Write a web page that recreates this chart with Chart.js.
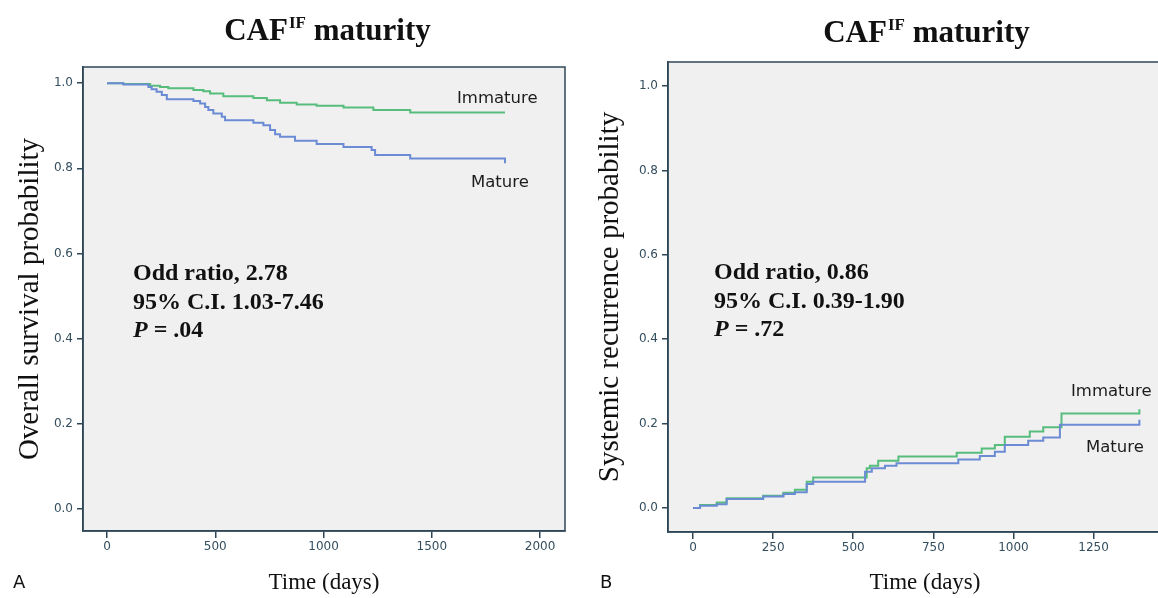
<!DOCTYPE html>
<html>
<head>
<meta charset="utf-8">
<script src="https://cdn.jsdelivr.net/npm/chart.js@4/dist/chart.umd.min.js"></script>
<style>
  html, body { margin: 0; padding: 0; background: #fff; overflow: hidden; width: 1158px; height: 598px; }
  .panel { position: absolute; top: 0; }
  #wrapA { left: 0; width: 580px; height: 598px; }
  #wrapB { left: 580px; width: 610px; height: 598px; }
  canvas { display: block; background: #fff; }
</style>
</head>
<body>
<div class="panel" id="wrapA"><canvas id="chartA" width="580" height="598"></canvas></div>
<div class="panel" id="wrapB"><canvas id="chartB" width="610" height="598"></canvas></div>
<script>
// A: overall survival (Kaplan-Meier)
const osDaysImmature = [0, 75, 199, 245, 283, 399, 445, 476, 537, 676, 738, 799, 876, 968, 1092, 1230, 1400, 1838]
const osProbImmature = [1.0, 0.998, 0.994, 0.991, 0.988, 0.984, 0.981, 0.976, 0.969, 0.965, 0.960, 0.954, 0.950, 0.947, 0.943, 0.937, 0.931, 0.931]
const osDaysMature = [0, 75, 191, 206, 229, 253, 276, 399, 430, 453, 468, 491, 530, 545, 676, 722, 753, 776, 799, 868, 968, 1092, 1222, 1238, 1400, 1838, 1838]
const osProbMature = [1.0, 0.997, 0.991, 0.986, 0.980, 0.972, 0.962, 0.958, 0.952, 0.944, 0.937, 0.929, 0.921, 0.913, 0.907, 0.901, 0.890, 0.880, 0.874, 0.865, 0.857, 0.850, 0.843, 0.831, 0.823, 0.823, 0.812]

// B: systemic recurrence
const recDaysImmature = [0, 22, 74, 105, 219, 282, 318, 355, 375, 542, 552, 578, 641, 823, 901, 942, 973, 1051, 1093, 1150, 1393, 1393]
const recProbImmature = [0, 0.007, 0.013, 0.023, 0.029, 0.036, 0.043, 0.062, 0.072, 0.094, 0.100, 0.112, 0.122, 0.131, 0.141, 0.149, 0.169, 0.181, 0.191, 0.224, 0.224, 0.234]
const recDaysMature = [0, 22, 74, 105, 219, 282, 318, 355, 375, 537, 558, 599, 635, 828, 895, 942, 973, 1046, 1093, 1145, 1393, 1393]
const recProbMature = [0, 0.005, 0.009, 0.021, 0.027, 0.033, 0.037, 0.057, 0.062, 0.086, 0.094, 0.100, 0.106, 0.115, 0.123, 0.133, 0.149, 0.159, 0.167, 0.197, 0.197, 0.209]

const xTicksA = [0, 500, 1000, 1500, 2000]
const xTicksB = [0, 250, 500, 750, 1000, 1250]
const yTicks = [0, 0.2, 0.4, 0.6, 0.8, 1.0]

const statsA = ['Odd ratio, 2.78', '95% C.I. 1.03-7.46', '.04']
const statsB = ['Odd ratio, 0.86', '95% C.I. 0.39-1.90', '.72']

const colors = {
    green: '#56bd7c',
    blue: '#6b8bd4',
    axis: '#2e4757',
    tick: '#344e5e',
    plot: '#f0f0f0',
    text: '#111',
}
const serif = '"Liberation Serif", "Times New Roman", serif'
const sans = '"DejaVu Sans", sans-serif'

function pts(xs, ys) {
    return xs.map((x, i) => ({ x: x, y: ys[i] }))
}

// plot box, title, stats and curve labels
const panelDecor = {
    id: 'panelDecor',
    beforeDraw(chart) {
        const { ctx, chartArea: a } = chart
        ctx.save()
        ctx.fillStyle = colors.plot
        ctx.fillRect(a.left, a.top, a.right - a.left, a.bottom - a.top)
        ctx.restore()
    },
    afterDraw(chart, args, o) {
        const { ctx, chartArea: a } = chart
        ctx.save()
        ctx.strokeStyle = colors.axis
        ctx.lineWidth = 1.5
        ctx.strokeRect(a.left, a.top, a.right - a.left, a.bottom - a.top)

        // title with superscript
        ctx.fillStyle = colors.text
        ctx.textBaseline = 'alphabetic'
        ctx.textAlign = 'left'
        const big = 'bold 31px ' + serif
        const small = 'bold 17px ' + serif
        ctx.font = big
        const w1 = ctx.measureText('CAF').width
        const w3 = ctx.measureText(' maturity').width
        ctx.font = small
        const w2 = ctx.measureText('IF').width
        let x = o.titleX - (w1 + w2 + w3) / 2
        ctx.font = big
        ctx.fillText('CAF', x, o.titleY)
        ctx.font = small
        ctx.fillText('IF', x + w1 + 1, o.titleY - 12)
        ctx.font = big
        ctx.fillText(' maturity', x + w1 + w2 + 1, o.titleY)

        // stats block
        ctx.font = 'bold 24px ' + serif
        ctx.fillText(o.stats[0], o.statsX, o.statsY)
        ctx.fillText(o.stats[1], o.statsX, o.statsY + 28.5)
        ctx.font = 'italic bold 24px ' + serif
        ctx.fillText('P', o.statsX, o.statsY + 57)
        const pw = ctx.measureText('P').width
        ctx.font = 'bold 24px ' + serif
        ctx.fillText(' = ' + o.stats[2], o.statsX + pw, o.statsY + 57)

        // curve labels
        ctx.font = '16.5px ' + sans
        ctx.fillStyle = '#1c1c1c'
        ctx.fillText('Immature', o.immX, o.immY)
        ctx.fillText('Mature', o.matX, o.matY)

        // panel letter
        ctx.font = '18px ' + sans
        ctx.fillStyle = '#111'
        ctx.fillText(o.letter, o.letterX, 588)
        ctx.restore()
    },
}

function makeChart(el, cfg) {
    const ds = (label, data, color) => ({
        label: label,
        data: data,
        borderColor: color,
        borderWidth: 2,
        pointRadius: 0,
        stepped: true,
        fill: false,
    })
    return new Chart(el, {
        type: 'line',
        data: {
            datasets: [
                ds('Mature', cfg.mature, colors.blue),
                ds('Immature', cfg.immature, colors.green),
            ],
        },
        options: {
            responsive: false,
            animation: false,
            devicePixelRatio: 1,
            layout: { padding: { left: 0, top: cfg.top, right: cfg.right, bottom: 0 } },
            plugins: {
                legend: { display: false },
                tooltip: { enabled: false },
                panelDecor: cfg.decor,
            },
            scales: {
                x: {
                    type: 'linear',
                    min: cfg.xMin,
                    max: cfg.xMax,
                    afterBuildTicks: s => { s.ticks = cfg.xTicks.map(v => ({ value: v })) },
                    afterFit: s => { s.height = cfg.xHeight },
                    ticks: {
                        color: colors.tick,
                        font: { family: sans, size: 12 },
                        padding: 2,
                        maxRotation: 0,
                        autoSkip: false,
                        callback: v => String(v),
                    },
                    grid: { drawOnChartArea: false, drawTicks: true, tickLength: 7, color: colors.axis, lineWidth: 1.5 },
                    border: { display: true, color: colors.axis, width: 1.5 },
                    title: {
                        display: true,
                        text: 'Time (days)',
                        color: colors.text,
                        font: { family: serif, size: 23 },
                        padding: { top: 0, bottom: 1 },
                    },
                },
                y: {
                    min: cfg.yMin,
                    max: cfg.yMax,
                    afterBuildTicks: s => { s.ticks = yTicks.map(v => ({ value: v })) },
                    afterFit: s => { s.width = cfg.yWidth },
                    ticks: {
                        color: colors.tick,
                        font: { family: sans, size: 12 },
                        padding: 4,
                        callback: v => Number(v).toFixed(1),
                    },
                    grid: { drawOnChartArea: false, drawTicks: true, tickLength: 6, color: colors.axis, lineWidth: 1.5 },
                    border: { display: true, color: colors.axis, width: 1.5 },
                    title: {
                        display: true,
                        text: cfg.yTitle,
                        color: colors.text,
                        font: { family: serif, size: 29 },
                        padding: { top: 13, bottom: 0 },
                    },
                },
            },
        },
        plugins: [panelDecor],
    })
}

makeChart(document.getElementById('chartA'), {
    immature: pts(osDaysImmature, osProbImmature),
    mature: pts(osDaysMature, osProbMature),
    xTicks: xTicksA,
    xMin: -111, xMax: 2115,
    yMin: -0.052, yMax: 1.038,
    top: 67, right: 15, xHeight: 67, yWidth: 83,
    yTitle: 'Overall survival probability',
    decor: {
        titleX: 327, titleY: 40,
        stats: statsA, statsX: 133, statsY: 280,
        immX: 457, immY: 103, matX: 471, matY: 187,
        letter: 'A', letterX: 13,
    },
})

makeChart(document.getElementById('chartB'), {
    immature: pts(recDaysImmature, recProbImmature),
    mature: pts(recDaysMature, recProbMature),
    xTicks: xTicksB,
    xMin: -78, xMax: 1526,
    yMin: -0.057, yMax: 1.057,
    top: 62, right: 8, xHeight: 66, yWidth: 88,
    yTitle: 'Systemic recurrence probability',
    decor: {
        titleX: 346, titleY: 42,
        stats: statsB, statsX: 134, statsY: 279,
        immX: 491, immY: 396, matX: 506, matY: 452,
        letter: 'B', letterX: 20,
    },
})
</script>
</body>
</html>
